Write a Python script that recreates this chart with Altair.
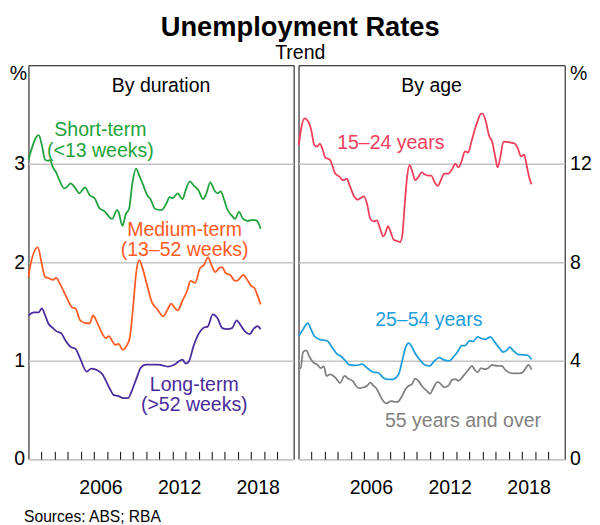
import altair as alt
import pandas as pd

# ---------------- data ----------------
short_years = [2001.00, 2001.78, 2002.02, 2002.27, 2002.51, 2002.63, 2002.88, 2003.12, 2003.37, 2003.73,
               2003.98, 2004.22, 2004.59, 2004.88, 2005.32, 2005.68, 2006.05, 2006.41, 2006.78, 2007.39,
               2007.76, 2007.88, 2008.17, 2008.44, 2008.68, 2008.93, 2009.22, 2009.46, 2009.71, 2010.07,
               2010.32, 2010.68, 2011.17, 2011.54, 2011.78, 2012.02, 2012.39, 2012.76, 2013.00, 2013.32,
               2013.61, 2013.98, 2014.34, 2014.59, 2014.88, 2015.20, 2015.44, 2015.68, 2015.93, 2016.17,
               2016.54, 2016.78, 2017.07, 2017.39, 2017.76, 2018.12, 2018.44, 2018.73]
short_vals = [3.04, 3.29, 3.19, 3.04, 3.03, 3.04, 2.96, 2.91, 2.83, 2.75,
              2.77, 2.80, 2.75, 2.70, 2.76, 2.68, 2.65, 2.55, 2.52, 2.44,
              2.53, 2.51, 2.37, 2.49, 2.54, 2.80, 2.95, 2.88, 2.80, 2.68,
              2.64, 2.54, 2.53, 2.60, 2.66, 2.65, 2.70, 2.64, 2.73, 2.82,
              2.78, 2.73, 2.64, 2.70, 2.81, 2.73, 2.70, 2.72, 2.64, 2.54,
              2.47, 2.44, 2.51, 2.44, 2.42, 2.43, 2.42, 2.34]

medium_years = [2001.00, 2001.15, 2001.71, 2002.02, 2002.27, 2002.51, 2002.88, 2003.12, 2003.37, 2003.85,
                2004.34, 2004.59, 2004.95, 2005.44, 2005.68, 2005.93, 2006.17, 2006.54, 2006.90, 2007.15,
                2007.39, 2007.63, 2007.88, 2008.20, 2008.49, 2008.73, 2009.02, 2009.22, 2009.46, 2009.71,
                2010.07, 2010.44, 2010.80, 2011.29, 2011.66, 2011.90, 2012.15, 2012.39, 2012.76, 2013.12,
                2013.37, 2013.73, 2014.10, 2014.39, 2014.71, 2014.95, 2015.27, 2015.56, 2015.80, 2016.05,
                2016.41, 2016.78, 2017.02, 2017.39, 2017.76, 2018.00, 2018.24, 2018.49, 2018.73]
medium_vals = [1.84, 1.97, 2.15, 1.98, 1.85, 1.84, 1.82, 1.84, 1.79, 1.66,
               1.54, 1.53, 1.41, 1.38, 1.38, 1.46, 1.41, 1.30, 1.23, 1.25,
               1.20, 1.16, 1.17, 1.11, 1.15, 1.23, 1.59, 1.89, 2.02, 1.94,
               1.76, 1.59, 1.53, 1.45, 1.53, 1.58, 1.54, 1.51, 1.61, 1.71,
               1.81, 1.79, 1.94, 1.97, 2.05, 1.98, 1.90, 1.94, 1.95, 1.89,
               1.87, 1.81, 1.82, 1.87, 1.81, 1.76, 1.74, 1.66, 1.57]

long_years = [2001.00, 2001.41, 2001.78, 2002.02, 2002.27, 2002.51, 2002.88, 2003.12, 2003.49, 2003.85,
              2004.22, 2004.59, 2004.95, 2005.44, 2005.80, 2006.29, 2006.66, 2006.90, 2007.27, 2007.51,
              2007.88, 2008.24, 2008.61, 2008.85, 2009.22, 2009.59, 2009.95, 2010.44, 2010.93, 2011.29,
              2011.66, 2012.15, 2012.44, 2012.76, 2013.00, 2013.24, 2013.61, 2013.98, 2014.34, 2014.71,
              2015.07, 2015.44, 2015.80, 2016.17, 2016.54, 2016.90, 2017.15, 2017.51, 2017.88, 2018.24,
              2018.49, 2018.73]
long_vals = [1.46, 1.49, 1.49, 1.53, 1.46, 1.38, 1.33, 1.30, 1.28, 1.20,
             1.14, 1.12, 1.02, 0.89, 0.92, 0.90, 0.86, 0.80, 0.70, 0.65,
             0.64, 0.62, 0.62, 0.68, 0.81, 0.93, 0.96, 0.96, 0.96, 0.95,
             0.94, 0.96, 0.99, 1.01, 0.97, 0.99, 1.15, 1.27, 1.33, 1.35,
             1.47, 1.43, 1.33, 1.32, 1.33, 1.41, 1.37, 1.30, 1.27, 1.33,
             1.35, 1.32]

youth_years = [2001.02, 2001.22, 2001.46, 2001.71, 2001.95, 2002.20, 2002.39, 2002.63, 2002.80, 2003.05,
               2003.37, 2003.54, 2003.78, 2004.15, 2004.39, 2004.68, 2004.88, 2005.24, 2005.49, 2005.73,
               2005.98, 2006.22, 2006.46, 2006.71, 2006.95, 2007.20, 2007.44, 2007.61, 2007.80, 2008.00,
               2008.24, 2008.54, 2008.73, 2008.90, 2009.07, 2009.27, 2009.46, 2009.63, 2009.88, 2010.12,
               2010.37, 2010.61, 2010.85, 2011.10, 2011.34, 2011.59, 2011.83, 2012.07, 2012.44, 2012.68,
               2012.93, 2013.17, 2013.41, 2013.66, 2013.90, 2014.15, 2014.39, 2014.63, 2014.88, 2015.00,
               2015.24, 2015.49, 2015.73, 2015.98, 2016.15, 2016.34, 2016.59, 2016.83, 2017.20, 2017.44,
               2017.68, 2017.93, 2018.17, 2018.34, 2018.54, 2018.73]
youth_vals = [12.76, 13.48, 13.84, 13.74, 13.41, 12.76, 12.69, 12.82, 12.63, 12.24,
              12.17, 11.98, 11.61, 11.46, 11.33, 11.39, 11.13, 10.67, 10.54, 10.61,
              10.67, 10.35, 9.76, 9.66, 9.70, 9.37, 9.05, 9.18, 9.47, 9.24,
              8.91, 8.85, 8.82, 9.11, 10.28, 11.52, 11.94, 11.72, 11.33, 11.46,
              11.65, 11.56, 11.52, 11.52, 11.26, 11.10, 11.33, 11.59, 11.61, 11.78,
              12.00, 11.85, 12.11, 12.50, 12.46, 12.89, 13.35, 13.74, 14.04, 14.03,
              13.74, 13.15, 12.89, 12.24, 11.85, 12.24, 12.89, 12.89, 12.85, 12.82,
              12.63, 12.30, 12.37, 11.98, 11.46, 11.16]

prime_years = [2001.02, 2001.34, 2001.71, 2001.95, 2002.20, 2002.56, 2002.93, 2003.17, 2003.54, 2003.90,
               2004.27, 2004.51, 2004.88, 2005.37, 2005.85, 2006.22, 2006.71, 2007.07, 2007.44, 2007.80,
               2008.17, 2008.41, 2008.66, 2008.90, 2009.15, 2009.39, 2009.63, 2009.88, 2010.24, 2010.61,
               2010.98, 2011.34, 2011.71, 2012.07, 2012.44, 2012.80, 2013.17, 2013.41, 2013.66, 2014.02,
               2014.27, 2014.63, 2014.88, 2015.24, 2015.61, 2015.85, 2016.22, 2016.59, 2016.88, 2017.07,
               2017.32, 2017.68, 2018.05, 2018.41, 2018.73]
prime_vals = [5.00, 5.27, 5.53, 5.27, 5.00, 4.87, 4.83, 4.81, 4.55, 4.29,
              4.16, 4.03, 3.83, 3.81, 3.86, 3.70, 3.53, 3.51, 3.31, 3.24,
              3.24, 3.31, 3.51, 4.03, 4.55, 4.71, 4.55, 4.29, 4.03, 3.83,
              3.79, 3.99, 4.12, 4.03, 3.99, 4.16, 4.42, 4.61, 4.61, 4.81,
              4.78, 4.97, 4.91, 4.87, 4.97, 4.81, 4.55, 4.35, 4.44, 4.55,
              4.42, 4.26, 4.24, 4.22, 4.05]

older_years = [2001.02, 2001.17, 2001.34, 2001.59, 2001.83, 2002.07, 2002.44, 2002.68, 2002.93, 2003.12,
               2003.41, 2003.66, 2003.90, 2004.15, 2004.51, 2004.76, 2005.12, 2005.37, 2005.61, 2005.98,
               2006.22, 2006.46, 2006.71, 2006.95, 2007.20, 2007.44, 2007.68, 2008.05, 2008.29, 2008.54,
               2008.90, 2009.15, 2009.39, 2009.63, 2009.88, 2010.12, 2010.37, 2010.73, 2011.02, 2011.22,
               2011.59, 2011.83, 2012.07, 2012.44, 2012.68, 2012.93, 2013.17, 2013.54, 2013.90, 2014.20,
               2014.39, 2014.63, 2014.88, 2015.12, 2015.37, 2015.73, 2016.10, 2016.46, 2016.71, 2017.07,
               2017.44, 2017.80, 2018.05, 2018.29, 2018.49, 2018.73]
older_vals = [3.70, 3.70, 4.35, 4.42, 4.16, 3.96, 3.83, 3.70, 3.77, 3.38,
              3.44, 3.38, 3.25, 3.09, 3.38, 3.27, 3.18, 2.98, 2.88, 2.92,
              2.98, 3.11, 2.98, 2.85, 2.59, 2.36, 2.27, 2.36, 2.33, 2.33,
              2.59, 2.85, 2.98, 3.05, 3.27, 3.18, 2.98, 2.79, 2.66, 2.85,
              3.14, 3.05, 2.92, 3.01, 3.22, 3.25, 3.18, 3.38, 3.61, 3.79,
              3.64, 3.53, 3.70, 3.66, 3.68, 3.83, 3.79, 3.79, 3.64, 3.51,
              3.48, 3.48, 3.53, 3.70, 3.83, 3.64]

dur_series = ["Short-term", "Medium-term", "Long-term"]
dur_colors = ["#1FA23A", "#FF5A22", "#4A2B9B"]
age_series = ["15-24", "25-54", "55+"]
age_colors = ["#EF3D5A", "#1E9DDC", "#808080"]

# label anchors (year, value of first baseline) and texts
dur_label_years = [2006.49, 2012.92, 2013.66]
dur_label_vals = [3.28, 2.27, 0.695]
dur_label_text = [["Short-term", "(<13 weeks)"], ["Medium-term", "(13–52 weeks)"], ["Long-term", "(>52 weeks)"]]
age_label_years = [2008.02, 2010.91, 2013.51]
age_label_vals = [12.60, 5.40, 1.29]
age_label_text = [["15–24 years"], ["25–54 years"], ["55 years and over"]]

tick_years = list(range(2002, 2021))
x_domain = [2001, 2021.25]

# ---------------- build ----------------
FONT = "Liberation Sans"
W1, W2, H = 272, 273, 404


def long_frame(names, year_lists, val_lists):
    parts = [pd.DataFrame({"series": n, "year": y, "value": v}) for n, y, v in zip(names, year_lists, val_lists)]
    return pd.concat(parts, ignore_index=True)


dur_df = long_frame(dur_series, [short_years, medium_years, long_years], [short_vals, medium_vals, long_vals])
age_df = long_frame(age_series, [youth_years, prime_years, older_years], [youth_vals, prime_vals, older_vals])


def x_axis(width, title=None):
    kw = dict(
        values=tick_years, format="d",
        labelExpr="(datum.value == 2006 || datum.value == 2012 || datum.value == 2018) ? '' + datum.value : ''",
        labelOffset=width / (x_domain[1] - x_domain[0]) / 2,
        offset=-8, tickSize=8, tickColor="black", tickWidth=1, domain=False, grid=False,
        labelPadding=19, labelFontSize=20, labelFont=FONT, labelColor="black",
        labelOverlap=False, labelFlush=False,
    )
    if title:
        kw.update(title=title, titleX=-5, titleY=72, titleAlign="left", titleAnchor="start",
                  titleBaseline="alphabetic", titleAngle=0, titleFontSize=16, titleFontWeight="normal",
                  titleFont=FONT, titleColor="black")
    else:
        kw.update(title=None)
    return alt.Axis(**kw)


def y_axis(values, orient):
    right = orient == "right"
    return alt.Axis(
        orient=orient, values=values, grid=True, gridColor="#c4c4c4", gridWidth=1.5,
        ticks=False, domain=False, labelPadding=5 if right else 4,
        labelFontSize=20, labelFont=FONT, labelColor="black",
        title="%", titleAngle=0, titleX=5 if right else -2, titleY=9,
        titleAlign="left" if right else "right", titleBaseline="middle",
        titleFontSize=20, titleFontWeight="normal", titleFont=FONT, titleColor="black",
    )


def panel(df, names, colors, lab_years, lab_vals, lab_text, ydom, yvals, orient, width, heading, xtitle):
    xenc = alt.X("year:Q", scale=alt.Scale(domain=x_domain, nice=False, zero=False), axis=x_axis(width, xtitle))
    yenc = alt.Y("value:Q", scale=alt.Scale(domain=ydom, nice=False, zero=True), axis=y_axis(yvals, orient))
    cenc = alt.Color("series:N", scale=alt.Scale(domain=names, range=colors), legend=None)

    lines = alt.Chart(df).mark_line(strokeWidth=1.8, interpolate="monotone").encode(
        x=xenc, y=yenc, color=cenc, detail="series:N")

    lab_data = alt.Data(values=[{"series": n, "year": yr, "value": v, "text": t}
                                for n, yr, v, t in zip(names, lab_years, lab_vals, lab_text)])
    labels = alt.Chart(lab_data).mark_text(font=FONT, fontSize=20, align="center",
                                           baseline="alphabetic", lineHeight=21).encode(
        x=xenc, y=yenc, color=cenc, text="text:N")

    head = alt.Chart(alt.Data(values=[{"t": heading}])).mark_text(
        font=FONT, fontSize=20, align="center", baseline="alphabetic", color="black").encode(
        text="t:N", x=alt.value(width / 2), y=alt.value(27))

    return alt.layer(lines, labels, head).properties(width=width, height=H)


left = panel(dur_df, dur_series, dur_colors, dur_label_years, dur_label_vals, dur_label_text,
             [0, 4], [0, 1, 2, 3], "left", W1, "By duration", "Sources: ABS; RBA")
right = panel(age_df, age_series, age_colors, age_label_years, age_label_vals, age_label_text,
              [0, 16], [0, 4, 8, 12], "right", W2, "By age", None)

chart = alt.hconcat(left, right, spacing=0).resolve_scale(color="independent").properties(
    title=alt.Title("Unemployment Rates", subtitle="Trend", font=FONT, fontSize=28, fontWeight="bold",
                    subtitleFont=FONT, subtitleFontSize=20, subtitlePadding=1, offset=1,
                    anchor="middle", color="black", subtitleColor="black"),
    padding={"left": 0, "top": 0, "right": 0, "bottom": 0},
).configure_view(stroke="black", strokeWidth=1)

chart.save("out.html", embed_options={"renderer": "svg", "actions": False})
